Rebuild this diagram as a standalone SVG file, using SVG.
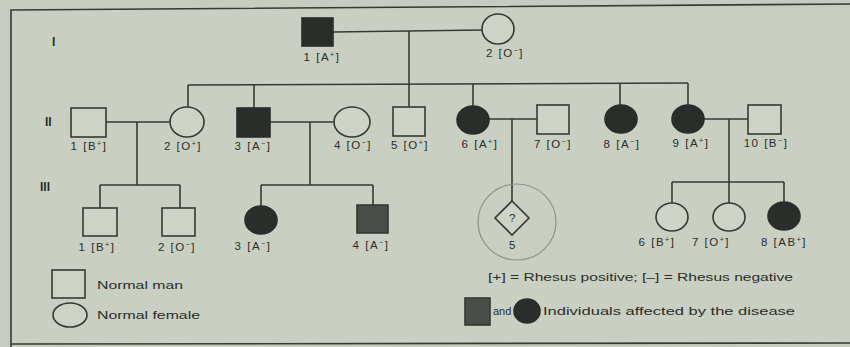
<svg xmlns="http://www.w3.org/2000/svg" width="850" height="347" viewBox="0 0 850 347">
<style>
.ln{stroke:#363934;stroke-width:1.6;fill:none}
.open{fill:#cdd4c7;stroke:#363934;stroke-width:1.6}
.aff{fill:#2b2d2a;stroke:#2b2d2a;stroke-width:1.6}
.aff2{fill:#4a4e48;stroke:#363934;stroke-width:1.6}
text{font-family:"Liberation Sans",Arial,sans-serif;fill:#2a2d29;font-size:11px}
.lbl{text-anchor:middle;letter-spacing:1.5px;font-size:11.5px}
.gen{font-size:12px;font-weight:bold}
.leg{font-size:11px}
</style>
<rect x="0" y="0" width="850" height="347" fill="#c6cdc0"/>
<rect x="11" y="8" width="839" height="336" fill="#c9d0c3"/>
<path class="ln" d="M11,347 L11,10 L850,4" stroke-width="2"/>
<path class="ln" d="M11,344 L850,343" stroke-width="2"/>

<!-- generation labels -->
<text class="gen" x="52" y="46">I</text>
<text class="gen" x="45" y="126">II</text>
<text class="gen" x="40" y="191">III</text>

<g id="connectors">
  <path class="ln" d="M333,32 L483,30"/>
  <path class="ln" d="M409,31 L409,107"/>
  <path class="ln" d="M188,85 L688,83"/>
  <path class="ln" d="M188,85 L188,107"/>
  <path class="ln" d="M254,85 L254,108"/>
  <path class="ln" d="M473,84 L473,106"/>
  <path class="ln" d="M620,83 L620,105"/>
  <path class="ln" d="M688,83 L688,105"/>
  <path class="ln" d="M106,122 L170,122"/>
  <path class="ln" d="M137,122 L137,185"/>
  <path class="ln" d="M100,185 L180,185"/>
  <path class="ln" d="M100,185 L100,208"/>
  <path class="ln" d="M180,185 L180,208"/>
  <path class="ln" d="M270,122 L334,122"/>
  <path class="ln" d="M310,122 L310,185"/>
  <path class="ln" d="M261,185 L373,185"/>
  <path class="ln" d="M261,185 L261,206"/>
  <path class="ln" d="M373,185 L373,205"/>
  <path class="ln" d="M489,119 L537,119"/>
  <path class="ln" d="M512,119 L512,201"/>
  <path class="ln" d="M704,119 L748,119"/>
  <path class="ln" d="M729,119 L729,203"/>
  <path class="ln" d="M672,182 L784,182"/>
  <path class="ln" d="M672,182 L672,203"/>
  <path class="ln" d="M784,182 L784,202"/>
</g>

<!-- Generation I -->
<g id="I-1"><rect class="aff" x="302" y="18" width="31" height="28"/><text class="lbl" x="322" y="61">1 [A<tspan dy="-4" font-size="7">+</tspan><tspan dy="4">]</tspan></text></g>
<g id="I-2"><ellipse class="open" cx="498" cy="29" rx="16" ry="15"/><text class="lbl" x="505" y="57">2 [O<tspan dy="-4" font-size="7">−</tspan><tspan dy="4">]</tspan></text></g>

<!-- Generation II -->
<g id="II-1"><rect class="open" x="71" y="108" width="35" height="29"/><text class="lbl" x="89" y="150">1 [B<tspan dy="-4" font-size="7">+</tspan><tspan dy="4">]</tspan></text></g>
<g id="II-2"><ellipse class="open" cx="187" cy="122" rx="17" ry="15"/><text class="lbl" x="183" y="150">2 [O<tspan dy="-4" font-size="7">+</tspan><tspan dy="4">]</tspan></text></g>
<g id="II-3"><rect class="aff" x="237" y="108" width="33" height="29"/><text class="lbl" x="253" y="150">3 [A<tspan dy="-4" font-size="7">−</tspan><tspan dy="4">]</tspan></text></g>
<g id="II-4"><ellipse class="open" cx="352" cy="122" rx="18" ry="15"/><text class="lbl" x="353" y="149">4 [O<tspan dy="-4" font-size="7">−</tspan><tspan dy="4">]</tspan></text></g>
<g id="II-5"><rect class="open" x="393" y="107" width="32" height="29"/><text class="lbl" x="410" y="149">5 [O<tspan dy="-4" font-size="7">+</tspan><tspan dy="4">]</tspan></text></g>
<g id="II-6"><ellipse class="aff" cx="473" cy="120" rx="16" ry="14"/><text class="lbl" x="480" y="148">6 [A<tspan dy="-4" font-size="7">+</tspan><tspan dy="4">]</tspan></text></g>
<g id="II-7"><rect class="open" x="537" y="105" width="32" height="29"/><text class="lbl" x="553" y="148">7 [O<tspan dy="-4" font-size="7">−</tspan><tspan dy="4">]</tspan></text></g>
<g id="II-8"><ellipse class="aff" cx="621" cy="119" rx="16" ry="14"/><text class="lbl" x="622" y="148">8 [A<tspan dy="-4" font-size="7">−</tspan><tspan dy="4">]</tspan></text></g>
<g id="II-9"><ellipse class="aff" cx="688" cy="119" rx="16" ry="14"/><text class="lbl" x="691" y="147">9 [A<tspan dy="-4" font-size="7">+</tspan><tspan dy="4">]</tspan></text></g>
<g id="II-10"><rect class="open" x="748" y="105" width="33" height="29"/><text class="lbl" x="766" y="147">10 [B<tspan dy="-4" font-size="7">−</tspan><tspan dy="4">]</tspan></text></g>

<!-- Generation III -->
<g id="III-1"><rect class="open" x="83" y="208" width="34" height="28"/><text class="lbl" x="97" y="251">1 [B<tspan dy="-4" font-size="7">+</tspan><tspan dy="4">]</tspan></text></g>
<g id="III-2"><rect class="open" x="162" y="208" width="33" height="28"/><text class="lbl" x="177" y="251">2 [O<tspan dy="-4" font-size="7">−</tspan><tspan dy="4">]</tspan></text></g>
<g id="III-3"><ellipse class="aff" cx="261" cy="220" rx="16" ry="14"/><text class="lbl" x="253" y="250">3 [A<tspan dy="-4" font-size="7">−</tspan><tspan dy="4">]</tspan></text></g>
<g id="III-4"><rect class="aff2" x="357" y="205" width="31" height="28"/><text class="lbl" x="371" y="249">4 [A<tspan dy="-4" font-size="7">−</tspan><tspan dy="4">]</tspan></text></g>
<g id="III-5">
  <ellipse cx="517" cy="222" rx="39" ry="38" fill="none" stroke="#8c938a" stroke-width="1.2"/>
  <path class="open" d="M512,201 L529,218 L512,235 L495,218 Z"/>
  <text class="lbl" x="513" y="222" font-size="10">?</text>
  <text class="lbl" x="513" y="249">5</text>
</g>
<g id="III-6"><ellipse class="open" cx="672" cy="217" rx="16" ry="14"/><text class="lbl" x="657" y="246">6 [B<tspan dy="-4" font-size="7">+</tspan><tspan dy="4">]</tspan></text></g>
<g id="III-7"><ellipse class="open" cx="729" cy="217" rx="16" ry="14"/><text class="lbl" x="711" y="246">7 [O<tspan dy="-4" font-size="7">+</tspan><tspan dy="4">]</tspan></text></g>
<g id="III-8"><ellipse class="aff" cx="784" cy="216" rx="16" ry="14"/><text class="lbl" x="784" y="246">8 [AB<tspan dy="-4" font-size="7">+</tspan><tspan dy="4">]</tspan></text></g>

<!-- Legend -->
<g id="legend">
  <rect class="open" x="52" y="270" width="33" height="28"/>
  <text class="leg" x="97" y="289" textLength="86" lengthAdjust="spacingAndGlyphs">Normal man</text>
  <ellipse class="open" cx="70" cy="315" rx="17" ry="12"/>
  <text class="leg" x="97" y="319" textLength="103" lengthAdjust="spacingAndGlyphs">Normal female</text>
  <text class="leg" x="488" y="281" textLength="305" lengthAdjust="spacingAndGlyphs">[+] = Rhesus positive; [–] = Rhesus negative</text>
  <rect class="aff2" x="465" y="298" width="25" height="27"/>
  <text class="leg" x="493" y="315">and</text>
  <ellipse class="aff" cx="527" cy="311" rx="13" ry="12"/>
  <text class="leg" x="543" y="315" textLength="252" lengthAdjust="spacingAndGlyphs">Individuals affected by the disease</text>
</g>
</svg>
